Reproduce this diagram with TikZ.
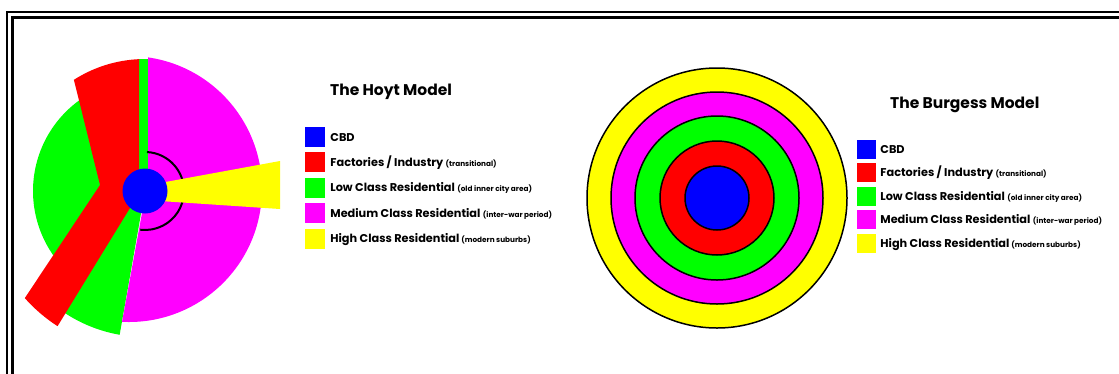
\documentclass[tikz,border=0pt]{standalone}
\usepackage{fontspec}
\setmainfont{Poppins}
\usetikzlibrary{positioning}
\definecolor{zoneBlue}{HTML}{0000FF}
\definecolor{zoneRed}{HTML}{FF0000}
\definecolor{zoneGreen}{HTML}{00FF00}
\definecolor{zoneMagenta}{HTML}{FF00FF}
\definecolor{zoneYellow}{HTML}{FFFF00}
\newcommand{\keynote}[1]{{\fontsize{7.3}{8}\selectfont #1}}
\tikzset{
  zone edge/.style={draw=black, line width=1.5pt},
  key box/.style={minimum width=20pt, minimum height=20pt, inner sep=0pt},
  key text/.style={font=\bfseries\fontsize{11.3}{13}\selectfont,
    inner sep=0pt, text height=8pt, text depth=0pt},
  model title/.style={font=\bfseries\fontsize{15.5}{18}\selectfont,
    inner sep=0pt, anchor=base west}
}

\begin{document}
\begin{tikzpicture}[x=1pt, y=-1pt]
  \useasboundingbox (0,0) rectangle (1119,373);
  % double frame
  \draw[line width=2.5pt] (7,380) -- (7,12) -- (1125,12);
  \draw[line width=3pt] (12.5,380) -- (12.5,17.5) -- (1125,17.5);

  % Hoyt sectors
  \coordinate (hoytCBD) at (145,191);
  \coordinate (hoytMid) at (129,189);
  \fill[zoneGreen] (hoytCBD) -- ([shift={(hoytCBD)}]235:112)
    arc[start angle=235, end angle=125, radius=112] -- cycle;
  \fill[zoneGreen] (hoytCBD) -- ([shift={(hoytCBD)}]132:146)
    arc[start angle=132, end angle=100, radius=146] -- cycle;
  \fill[zoneGreen] (139,175) rectangle (148,59);
  \fill[zoneMagenta] (148,175) -- ([shift={(hoytMid)}]-81.7:133)
    arc[start angle=-81.7, end angle=93, radius=133] -- (142,213) -- cycle;
  \draw[line width=2pt] ([shift={(hoytCBD)}]-87:39)
    arc[start angle=-87, end angle=97, radius=39];
  \fill[zoneYellow] (160,183) -- (280,161) -- (280,209) -- (160,201) -- cycle;
  \fill[zoneRed] (139,175) -- ([shift={(hoytCBD)}]-92.6:132)
    arc[start angle=-92.6, end angle=-122.6, radius=132] -- (100,185)
    -- ([shift={(hoytCBD)}]138.3:161)
    arc[start angle=138.3, end angle=122.9, radius=161] -- (130,208) -- cycle;
  \fill[zoneBlue] (hoytCBD) circle[radius=22.5];

  % Hoyt key
  \node[model title] (hoytTitle) at (330,95) {The Hoyt Model};
  \node[key box, fill=zoneBlue] (hoytKeyA) at (315,137) {};
  \node[key box, fill=zoneRed, below=5pt of hoytKeyA] (hoytKeyB) {};
  \node[key box, fill=zoneGreen, below=5pt of hoytKeyB] (hoytKeyC) {};
  \node[key box, fill=zoneMagenta, below=5pt of hoytKeyC] (hoytKeyD) {};
  \node[key box, fill=zoneYellow, below=5pt of hoytKeyD] (hoytKeyE) {};
  \node[key text, right=5pt of hoytKeyA] (hoytTextA) {CBD};
  \node[key text, right=5pt of hoytKeyB] (hoytTextB)
    {Factories / Industry \keynote{(transitional)}};
  \node[key text, right=5pt of hoytKeyC] (hoytTextC)
    {Low Class Residential \keynote{(old inner city area)}};
  \node[key text, right=5pt of hoytKeyD] (hoytTextD)
    {Medium Class Residential \keynote{(inter-war period)}};
  \node[key text, right=5pt of hoytKeyE] (hoytTextE)
    {High Class Residential\,\keynote{(modern suburbs)}};

  % Burgess rings
  \coordinate (burgessCBD) at (717,198);
  \foreach \r/\c in {130/zoneYellow, 106/zoneMagenta, 82/zoneGreen,
      57/zoneRed, 32/zoneBlue}
    \filldraw[fill=\c, zone edge] (burgessCBD) circle[radius=\r];

  % Burgess key
  \node[model title] (burgessTitle) at (890,108) {The Burgess Model};
  \node[key box, minimum size=19pt, fill=zoneBlue] (burgessKeyA) at (866.5,149.5) {};
  \node[key box, minimum size=19pt, fill=zoneRed, below=4pt of burgessKeyA] (burgessKeyB) {};
  \node[key box, minimum size=19pt, fill=zoneGreen, below=4pt of burgessKeyB] (burgessKeyC) {};
  \node[key box, minimum size=19pt, fill=zoneMagenta, below=4pt of burgessKeyC] (burgessKeyD) {};
  \node[key box, minimum size=19pt, fill=zoneYellow, below=4pt of burgessKeyD] (burgessKeyE) {};
  \node[key text, right=4pt of burgessKeyA] (burgessTextA) {CBD};
  \node[key text, right=4pt of burgessKeyB] (burgessTextB)
    {Factories / Industry \keynote{(transitional)}};
  \node[key text, right=4pt of burgessKeyC] (burgessTextC)
    {Low Class Residential \keynote{(old inner city area)}};
  \node[key text, right=4pt of burgessKeyD] (burgessTextD)
    {Medium Class Residential \keynote{(inter-war period)}};
  \node[key text, right=4pt of burgessKeyE] (burgessTextE)
    {High Class Residential\,\keynote{(modern suburbs)}};
\end{tikzpicture}
\end{document}
